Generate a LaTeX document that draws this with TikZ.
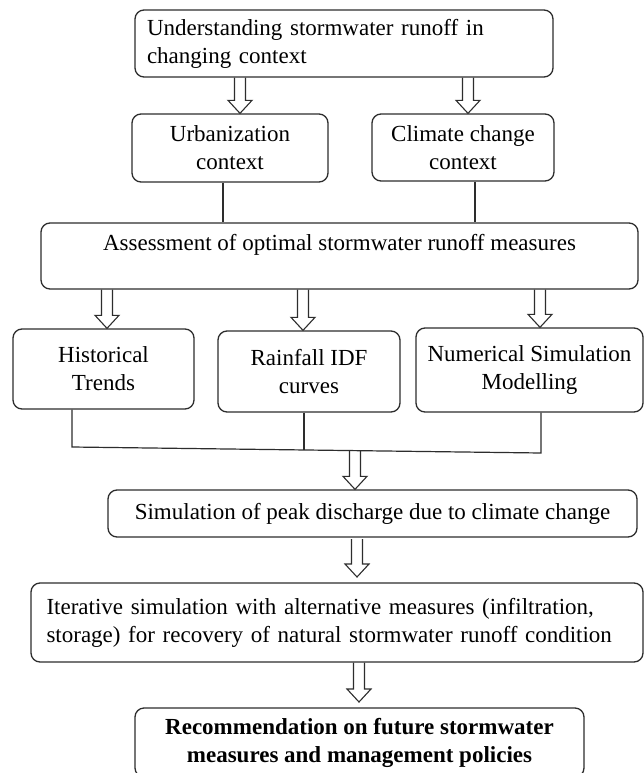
\documentclass[tikz,border=0pt]{standalone}
\usepackage{fontspec}
\setmainfont{Liberation Serif}
\usetikzlibrary{calc}
\definecolor{linec}{RGB}{45,45,45}
\newcommand\blockarr[2]{%
  \draw[arrline] ($(#1)+(-5.5,0)$) -- ($(#2)+(-5.5,-13)$) -- ($(#2)+(-12,-13)$) -- (#2)
    -- ($(#2)+(12,-13)$) -- ($(#2)+(5.5,-13)$) -- ($(#1)+(5.5,0)$);}
\begin{document}
\begin{tikzpicture}[x=1pt,y=-1pt,
  every node/.style={font=\fontsize{23}{28}\selectfont},
  box/.style={draw=linec, line width=1.3pt, rounded corners=9pt, inner sep=0pt, align=center},
  conn/.style={draw=linec, line width=1.2pt},
  arrline/.style={draw=linec, line width=1.1pt, line join=miter}]
\useasboundingbox[fill=white] (0,0) rectangle (644,773);

\node[box, minimum width=418, minimum height=67, text width=394pt, align=left] (top) at (344,43.5)
  {Understanding stormwater runoff in\\changing context};
\node[box, minimum width=196, minimum height=68] (urban) at (230,148) {Urbanization\\context};
\node[box, minimum width=182, minimum height=67] (climate) at (463,147.5) {Climate change\\context};
\node[box, minimum width=597, minimum height=66] (assess) at (339.5,256)
  {Assessment of optimal stormwater runoff measures\\\mbox{}};
\node[box, minimum width=181, minimum height=80] (hist) at (103.5,369) {Historical\\Trends};
\node[box, minimum width=182, minimum height=81] (rain) at (309,371.5) {Rainfall IDF\\curves};
\node[box, minimum width=227, minimum height=84] (num) at (529.5,370) {Numerical Simulation\\Modelling};
\node[box, minimum width=529, minimum height=47] (sim) at (372.5,513.5)
  {Simulation of peak discharge due to climate change};
\node[box, minimum width=612, minimum height=79, text width=581pt, align=left] (iter) at (337,622.5)
  {\makebox[581pt][s]{Iterative simulation with alternative measures (infiltration,}\\
   storage) for recovery of natural stormwater runoff condition};
\node[box, minimum width=449, minimum height=69, font=\fontsize{23}{28}\selectfont\bfseries] (rec) at (359.5,742.5)
  {Recommendation on future stormwater\\measures and management policies};

% connector lines
\draw[conn] (223,0 |- urban.south) -- (223,0 |- assess.north);
\draw[conn] (475,0 |- climate.south) -- (475,0 |- assess.north);
\coordinate (h1) at (72,447);
\coordinate (h2) at (304,449.97);
\coordinate (h3) at (541,453);
\draw[conn] (72,0 |- hist.south) -- (h1) -- (h3) -- (541,0 |- num.south);
\draw[conn] (304,0 |- rain.south) -- (h2);

% block arrows
\coordinate (a1s) at (240,0 |- top.south);   \coordinate (a1t) at (240,0 |- urban.north);
\coordinate (a2s) at (468,0 |- top.south);   \coordinate (a2t) at (468,0 |- climate.north);
\coordinate (a3s) at (107,0 |- assess.south); \coordinate (a3t) at (107,0 |- hist.north);
\coordinate (a4s) at (303,0 |- assess.south); \coordinate (a4t) at (303,0 |- rain.north);
\coordinate (a5s) at (540,0 |- assess.south); \coordinate (a5t) at (540,0 |- num.north);
\coordinate (a6s) at (355,451);               \coordinate (a6t) at (355,0 |- sim.north);
\coordinate (a7s) at (357,539);               \coordinate (a7t) at (357,577);
\coordinate (a8s) at (359,0 |- iter.south);  \coordinate (a8t) at (359,702);
\blockarr{a1s}{a1t}
\blockarr{a2s}{a2t}
\blockarr{a3s}{a3t}
\blockarr{a4s}{a4t}
\blockarr{a5s}{a5t}
\blockarr{a6s}{a6t}
\blockarr{a7s}{a7t}
\blockarr{a8s}{a8t}
\end{tikzpicture}
\end{document}
